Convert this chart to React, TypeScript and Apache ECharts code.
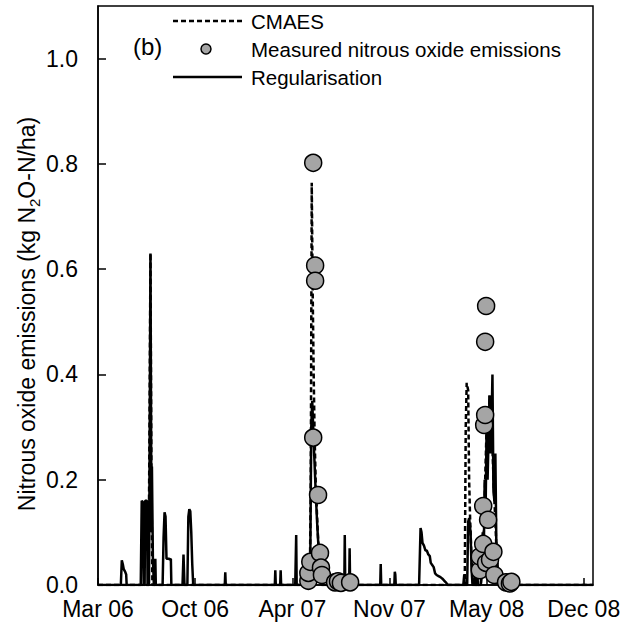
import React, { useEffect, useRef } from "react";
import * as echarts from "echarts";

// x values: days since 15 Mar 2006
const tickLabels = ["Mar 06", "Oct 06", "Apr 07", "Nov 07", "May 08", "Dec 08"];
const yTicks = ["0.0", "0.2", "0.4", "0.6", "0.8", "1.0"];

const regularisation: [number, number][] = [
  [0, 0],
  [47, 0], [49, 0.047], [51, 0.04], [53, 0.03], [56, 0.025], [58, 0.02], [59, 0],
  [88, 0], [90, 0.16], [92, 0.158], [94, 0],
  [96, 0], [97, 0.16], [99, 0.16], [101, 0.16], [102, 0],
  [105, 0], [107, 0.4], [108, 0.63], [110, 0.1], [111, 0.225], [113, 0.05], [115, 0],
  [117, 0], [118, 0.05], [119, 0],
  [133, 0], [135, 0.09], [137, 0.138], [139, 0.13], [141, 0.05], [143, 0.05], [146, 0.05], [148, 0.048], [150, 0.05], [151, 0],
  [174, 0], [176, 0.058], [178, 0],
  [184, 0], [186, 0.13], [188, 0.144], [190, 0.14], [192, 0.1], [194, 0.04], [196, 0],
  [261, 0], [262, 0.024], [263, 0],
  [364, 0], [365, 0.028], [366, 0], [375, 0], [376, 0.028], [377, 0],
  [406, 0], [408, 0.095], [409, 0],
  [435, 0], [437, 0.05], [439, 0.3], [441, 0.35], [443, 0.3], [445, 0.25], [448, 0.18], [451, 0.12], [454, 0.07], [457, 0.03], [460, 0],
  [507, 0], [508, 0.095], [509, 0], [517, 0], [518, 0.07], [519, 0],
  [581, 0], [582, 0.04], [583, 0],
  [610, 0], [611, 0.025], [612, 0.02], [613, 0],
  [661, 0], [664, 0.108], [666, 0.1], [668, 0.08], [671, 0.075], [674, 0.066], [677, 0.065], [680, 0.058], [683, 0.055], [685, 0.042], [688, 0.038], [691, 0.034], [694, 0.022], [697, 0.019], [701, 0.017], [705, 0.015], [709, 0.012], [713, 0.008], [717, 0.004], [720, 0],
  [752, 0], [754, 0.02], [755, 0], [760, 0], [762, 0.12], [764, 0.127], [767, 0.1], [769, 0.03], [771, 0],
  [775, 0], [776, 0.03], [777, 0], [780, 0], [781, 0.025], [782, 0],
  [788, 0], [790, 0.03], [792, 0.1], [794, 0.05], [796, 0.2], [798, 0.15], [800, 0.3], [802, 0.2], [804, 0.28], [806, 0.36], [808, 0.25], [810, 0.3], [812, 0.4], [814, 0.18], [816, 0.16], [818, 0.25], [820, 0.08], [822, 0.04], [824, 0.01], [826, 0],
  [1019, 0],
];

const cmaes: [number, number][] = [
  [0, 0], [104, 0], [106, 0.3], [108, 0.63], [110, 0.2], [112, 0],
  [436, 0], [438, 0.2], [440, 0.764], [442, 0.55], [444, 0.4], [446, 0.28], [448, 0.2], [451, 0.13], [454, 0.07], [458, 0.025], [462, 0],
  [755, 0], [757, 0.3], [759, 0.384], [762, 0.37], [764, 0.2], [766, 0.127], [769, 0.05], [772, 0],
  [788, 0], [792, 0.05], [795, 0.12], [797, 0.2], [800, 0.3], [803, 0.25], [806, 0.36], [808, 0.3], [810, 0.33], [812, 0.26], [815, 0.18], [818, 0.12], [821, 0.05], [824, 0.02], [827, 0],
  [1019, 0],
];

const measured: [number, number][] = [
  [433, 0.008], [433, 0.023], [437, 0.044], [443, 0.802], [447, 0.607], [447, 0.578], [443, 0.28],
  [453, 0.171], [457, 0.061], [459, 0.033], [461, 0.019], [488, 0.005], [494, 0.007], [500, 0.004], [519, 0.005],
  [786, 0.028], [786, 0.054], [793, 0.078], [793, 0.15], [795, 0.304], [797, 0.323], [797, 0.462], [799, 0.53],
  [799, 0.042], [803, 0.124], [807, 0.048], [814, 0.063], [816, 0.019], [840, 0.005], [848, 0.003], [851, 0.006],
];

const FONT = "'Liberation Sans', Arial, sans-serif";
const GREY = "#a5a5a5";

export default function App() {
  const ref = useRef<HTMLDivElement>(null);
  useEffect(() => {
    if (!ref.current) return;
    const chart = echarts.init(ref.current, null, { renderer: "svg" });
    chart.setOption({
      animation: false,
      backgroundColor: "#fff",
      textStyle: { fontFamily: FONT, color: "#000" },
      grid: { left: 98, right: 41, top: 6, bottom: 48, show: true, borderColor: "#000", borderWidth: 1.5, backgroundColor: "transparent" },
      xAxis: {
        type: "value", min: 0, max: 1019, interval: 200,
        axisLine: { show: true, lineStyle: { color: "#000", width: 1.5 } },
        axisTick: { show: true, inside: true, length: 7, lineStyle: { color: "#000", width: 1.5 } },
        splitLine: { show: false },
        axisLabel: {
          showMaxLabel: false, margin: 12, fontSize: 23, color: "#000", fontFamily: FONT,
          formatter: (v: number) => tickLabels[Math.round(v / 200)] ?? "",
        },
      },
      yAxis: {
        type: "value", min: 0, max: 1.1, interval: 0.2,
        axisLine: { show: true, lineStyle: { color: "#000", width: 1.5 } },
        axisTick: { show: true, inside: true, length: 8, lineStyle: { color: "#000", width: 1.5 } },
        splitLine: { show: false },
        axisLabel: {
          showMaxLabel: false, margin: 20, fontSize: 23, color: "#000", fontFamily: FONT,
          formatter: (v: number) => yTicks[Math.round(v / 0.2)] ?? "",
        },
      },
      series: [
        {
          name: "Regularisation", type: "line", data: regularisation, showSymbol: false, symbol: "none",
          lineStyle: { color: "#000", width: 2.5 }, z: 2,
        },
        {
          name: "CMAES", type: "line", data: cmaes, showSymbol: false, symbol: "none",
          lineStyle: { color: "#000", width: 2.5, type: [5, 3] }, z: 3,
        },
        {
          name: "Measured nitrous oxide emissions", type: "scatter", data: measured, symbol: "circle", symbolSize: 17,
          itemStyle: { color: GREY, borderColor: "#000", borderWidth: 1.5, opacity: 1 }, z: 4,
        },
      ],
      graphic: [
        {
          type: "text", x: 27, y: 314, rotation: Math.PI / 2,
          style: {
            text: "{t|Nitrous oxide emissions (kg N}{s|2}{t|O-N/ha)}",
            fontSize: 23, fontFamily: FONT, fill: "#000", align: "center", verticalAlign: "middle",
            rich: {
              t: { fontSize: 23, fontFamily: FONT, fill: "#000", lineHeight: 30, verticalAlign: "middle" },
              s: { fontSize: 15, fontFamily: FONT, fill: "#000", lineHeight: 15, verticalAlign: "bottom" },
            },
          },
        },
        { type: "text", left: 133, top: 34, style: { text: "(b)", fontSize: 24, fontFamily: FONT, fill: "#000" } },
        { type: "line", shape: { x1: 173, y1: 21, x2: 242, y2: 21 }, style: { stroke: "#000", lineWidth: 2.5, lineDash: [5, 3] } },
        { type: "circle", shape: { cx: 206, cy: 49, r: 5 }, style: { fill: GREY, stroke: "#000", lineWidth: 1.5 } },
        { type: "line", shape: { x1: 173, y1: 77, x2: 242, y2: 77 }, style: { stroke: "#000", lineWidth: 2.5 } },
        { type: "text", x: 251, y: 21, style: { text: "CMAES", fontSize: 20.5, fontFamily: FONT, fill: "#000", verticalAlign: "middle" } },
        { type: "text", x: 251, y: 49, style: { text: "Measured nitrous oxide emissions", fontSize: 20.5, fontFamily: FONT, fill: "#000", verticalAlign: "middle" } },
        { type: "text", x: 251, y: 77, style: { text: "Regularisation", fontSize: 20.5, fontFamily: FONT, fill: "#000", verticalAlign: "middle" } },
      ],
    });
    return () => chart.dispose();
  }, []);
  return <div ref={ref} style={{ width: 634, height: 633, position: "fixed", left: 0, top: 0 }} />;
}
